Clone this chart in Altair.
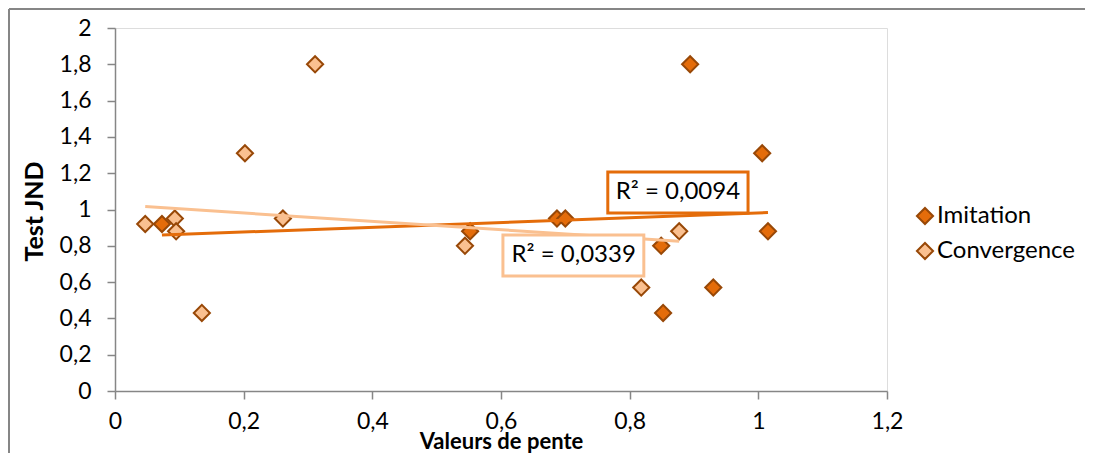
import altair as alt
import pandas as pd

# ---- data ----
series_names = ["Imitation", "Convergence"]
imitation_x = [0.073, 0.552, 0.687, 0.700, 0.849, 0.852, 0.894, 0.930, 1.006, 1.015]
imitation_y = [0.92, 0.88, 0.95, 0.95, 0.80, 0.43, 1.80, 0.57, 1.31, 0.88]
convergence_x = [0.047, 0.093, 0.095, 0.135, 0.202, 0.261, 0.311, 0.544, 0.818, 0.877]
convergence_y = [0.92, 0.95, 0.88, 0.43, 1.31, 0.95, 1.80, 0.80, 0.57, 0.88]

x_ticks = [0, 0.2, 0.4, 0.6, 0.8, 1.0, 1.2]
y_ticks = [0, 0.2, 0.4, 0.6, 0.8, 1.0, 1.2, 1.4, 1.6, 1.8, 2.0]

r2_text = ["R² = 0,0094", "R² = 0,0339"]
r2_series = ["Imitation", "Convergence"]
r2_x = [0.875, 0.713]
r2_y = [1.094, 0.747]
r2_box_x1 = [0.766, 0.603]
r2_box_x2 = [0.984, 0.822]
r2_box_y1 = [1.207, 0.860]
r2_box_y2 = [0.981, 0.634]

DARK = "#E46C0A"
LIGHT = "#FAC090"
EDGE = "#984807"
AXIS = "#868686"
FONT = "Lato"

df = pd.DataFrame({
    "serie": ["Imitation"] * len(imitation_x) + ["Convergence"] * len(convergence_x),
    "x": imitation_x + convergence_x,
    "y": imitation_y + convergence_y,
})
ann = pd.DataFrame({
    "text": r2_text, "serie": r2_series, "tx": r2_x, "ty": r2_y,
    "x1": r2_box_x1, "x2": r2_box_x2, "y1": r2_box_y1, "y2": r2_box_y2,
})

label_expr = "replace(format(datum.value, '~g'), '.', ',')"
xscale = alt.Scale(domain=[0, 1.2], nice=False, zero=False)
yscale = alt.Scale(domain=[0, 2], nice=False, zero=False)

x_axis = alt.Axis(
    title="Valeurs de pente", values=x_ticks, labelExpr=label_expr, grid=False,
    domainColor=AXIS, tickColor=AXIS, tickSize=8, domainWidth=1.5, tickWidth=1.5,
    labelFont=FONT, labelFontSize=23, labelColor="black", labelPadding=11,
    labelFlush=False, labelOverlap=False,
    titleFont=FONT, titleFontSize=22, titleFontWeight="bold", titleColor="black",
    titleY=50, titleBaseline="middle",
)
y_axis = alt.Axis(
    title="Test JND", values=y_ticks, labelExpr=label_expr, grid=False,
    domainColor=AXIS, tickColor=AXIS, tickSize=8, domainWidth=1.5, tickWidth=1.5,
    labelFont=FONT, labelFontSize=23, labelColor="black", labelPadding=16,
    labelFlush=False, labelOverlap=False,
    titleFont=FONT, titleFontSize=25, titleFontWeight="bold", titleColor="black",
    titleX=-81, titleY=183, titleBaseline="middle", titleAngle=270,
)

base = alt.Chart(df)

points = base.mark_point(
    shape="diamond", filled=True, size=260, stroke=EDGE, strokeWidth=2, opacity=1
).encode(
    x=alt.X("x:Q", scale=xscale, axis=x_axis),
    y=alt.Y("y:Q", scale=yscale, axis=y_axis),
    color=alt.Color(
        "serie:N",
        scale=alt.Scale(domain=series_names, range=[DARK, LIGHT]),
        sort=series_names,
        legend=alt.Legend(
            title=None, orient="none", legendX=798, legendY=176, padding=0,
            labelFont=FONT, labelFontSize=24, labelColor="black", labelOffset=0,
            symbolType="diamond", symbolSize=260, symbolStrokeColor=EDGE,
            symbolStrokeWidth=2, rowPadding=9,
        ),
    ),
    order=alt.Order("serie:N", sort="descending"),
)

trend_imit = base.transform_filter("datum.serie == 'Imitation'").transform_regression(
    "x", "y"
).mark_line(color=DARK, strokeWidth=3).encode(
    x=alt.X("x:Q", scale=xscale, axis=x_axis), y=alt.Y("y:Q", scale=yscale, axis=y_axis)
)
trend_conv = base.transform_filter("datum.serie == 'Convergence'").transform_regression(
    "x", "y"
).mark_line(color=LIGHT, strokeWidth=3).encode(
    x=alt.X("x:Q", scale=xscale, axis=x_axis), y=alt.Y("y:Q", scale=yscale, axis=y_axis)
)

boxes = alt.Chart(ann).mark_rect(fill="white", strokeWidth=3).encode(
    x=alt.X("x1:Q", scale=xscale, axis=x_axis), x2="x2:Q",
    y=alt.Y("y1:Q", scale=yscale, axis=y_axis), y2="y2:Q",
    stroke=alt.Stroke("serie:N", scale=alt.Scale(domain=series_names, range=[DARK, LIGHT]), legend=None),
)
labels = alt.Chart(ann).mark_text(font=FONT, fontSize=24, color="black").encode(
    x=alt.X("tx:Q", scale=xscale, axis=x_axis), y=alt.Y("ty:Q", scale=yscale, axis=y_axis),
    text="text:N",
)

frame_left = alt.Chart(df).mark_rule(color=AXIS, strokeWidth=1.5).encode(
    x=alt.value(-106), y=alt.value(-19), y2=alt.value(430)
)
frame_top = alt.Chart(df).mark_rule(color=AXIS, strokeWidth=1.5).encode(
    x=alt.value(-106), x2=alt.value(975), y=alt.value(-19)
)

chart = alt.layer(
    frame_left, frame_top, points, trend_imit, trend_conv, boxes, labels
).resolve_scale(stroke="independent").properties(
    width=772, height=363,
    padding={"left": 107, "top": 20, "right": 198, "bottom": 62},
    autosize=alt.AutoSizeParams(type="none"),
).configure_view(strokeWidth=0).configure(background="white")

chart.save("out.html", embed_options={"renderer": "svg", "actions": False})
